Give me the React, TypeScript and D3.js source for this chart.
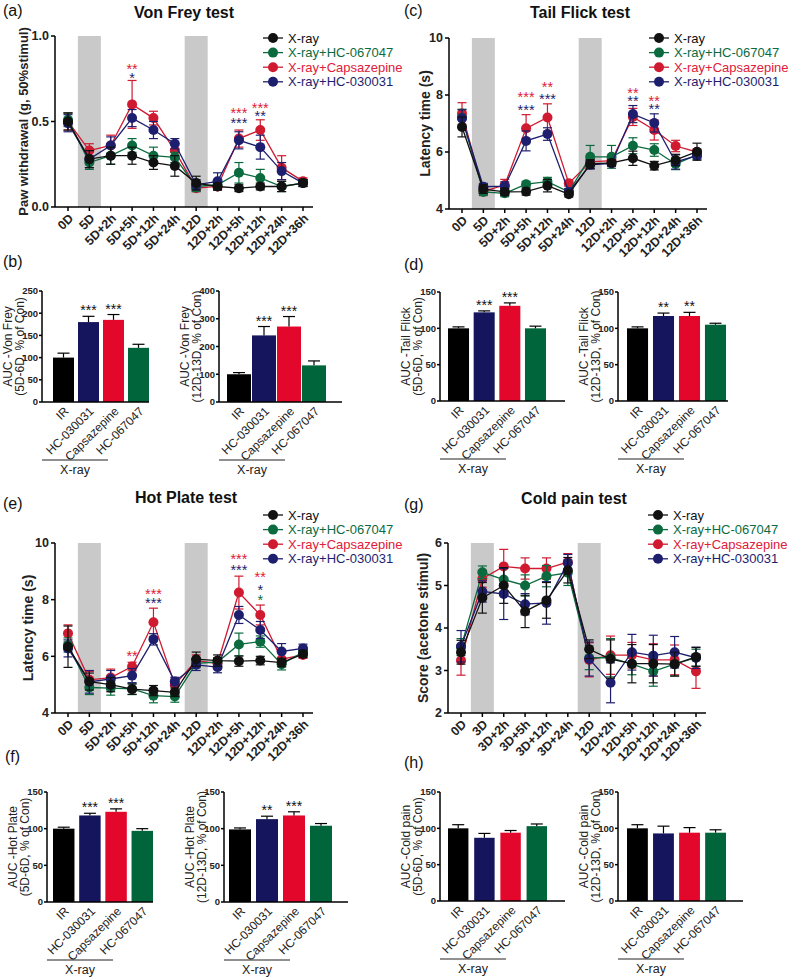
import React from 'react';
import * as d3 from 'd3';

const FONT = '"Liberation Sans", Arial, Helvetica, sans-serif';

// time points
const timeLabels = ['0D', '5D', '5D+2h', '5D+5h', '5D+12h', '5D+24h', '12D', '12D+2h', '12D+5h', '12D+12h', '12D+24h', '12D+36h'];
const coldTimeLabels = ['0D', '3D', '3D+2h', '3D+5h', '3D+12h', '3D+24h', '12D', '12D+2h', '12D+5h', '12D+12h', '12D+24h', '12D+36h'];

const seriesNames = ['X-ray', 'X-ray+HC-067047', 'X-ray+Capsazepine', 'X-ray+HC-030031'];
const seriesColors = ['#111111', '#0b6b3f', '#cf1a30', '#1e1e6e'];

// (a) Von Frey
const vfXray = [0.50, 0.28, 0.30, 0.30, 0.26, 0.24, 0.14, 0.12, 0.11, 0.12, 0.12, 0.14];
const vfXrayErr = [0.05, 0.05, 0.05, 0.05, 0.04, 0.06, 0.04, 0.02, 0.02, 0.02, 0.03, 0.02];
const vfHC067 = [0.51, 0.26, 0.30, 0.36, 0.30, 0.29, 0.12, 0.13, 0.20, 0.17, 0.12, 0.14];
const vfHC067Err = [0.04, 0.04, 0.05, 0.04, 0.05, 0.03, 0.03, 0.03, 0.06, 0.05, 0.03, 0.02];
const vfCaps = [0.50, 0.33, 0.36, 0.60, 0.52, 0.33, 0.11, 0.12, 0.40, 0.45, 0.23, 0.15];
const vfCapsErr = [0.05, 0.04, 0.06, 0.14, 0.04, 0.04, 0.02, 0.02, 0.05, 0.06, 0.07, 0.02];
const vfHC030 = [0.49, 0.28, 0.36, 0.52, 0.45, 0.37, 0.13, 0.15, 0.39, 0.35, 0.21, 0.14];
const vfHC030Err = [0.05, 0.05, 0.05, 0.05, 0.05, 0.03, 0.03, 0.05, 0.05, 0.07, 0.05, 0.02];
// [time index, series index, text, value]
const vfStars: [number, number, string, number][] = [
  [3, 2, '**', 0.825], [3, 3, '*', 0.772],
  [8, 2, '***', 0.568], [8, 3, '***', 0.51],
  [9, 2, '***', 0.597], [9, 3, '**', 0.549],
];

// (c) Tail Flick
const tfXray = [6.88, 4.70, 4.60, 4.61, 4.82, 4.52, 5.58, 5.62, 5.78, 5.52, 5.72, 6.01];
const tfXrayErr = [0.35, 0.15, 0.12, 0.12, 0.22, 0.10, 0.15, 0.10, 0.25, 0.15, 0.20, 0.30];
const tfHC067 = [7.20, 4.60, 4.55, 4.87, 4.96, 4.60, 5.83, 5.83, 6.22, 6.07, 5.58, 5.90];
const tfHC067Err = [0.30, 0.10, 0.12, 0.10, 0.15, 0.10, 0.40, 0.40, 0.28, 0.22, 0.20, 0.10];
const tfCaps = [7.35, 4.62, 4.84, 6.83, 7.21, 4.90, 5.65, 5.70, 7.23, 6.77, 6.21, 6.00];
const tfCapsErr = [0.38, 0.15, 0.20, 0.48, 0.48, 0.10, 0.12, 0.12, 0.30, 0.35, 0.20, 0.10];
const tfHC030 = [7.18, 4.78, 4.80, 6.39, 6.63, 4.60, 5.55, 5.60, 7.33, 7.02, 5.65, 5.87];
const tfHC030Err = [0.30, 0.12, 0.15, 0.35, 0.22, 0.12, 0.15, 0.10, 0.30, 0.32, 0.25, 0.12];
const tfStars: [number, number, string, number][] = [
  [3, 2, '***', 8.02], [3, 3, '***', 7.58],
  [4, 2, '**', 8.38], [4, 3, '***', 7.97],
  [8, 2, '**', 8.19], [8, 3, '**', 7.90],
  [9, 2, '**', 7.90], [9, 3, '**', 7.61],
];

// (e) Hot Plate
const hpXray = [6.34, 5.11, 5.00, 4.84, 4.79, 4.73, 5.90, 5.85, 5.83, 5.85, 5.78, 6.08];
const hpXrayErr = [0.73, 0.30, 0.25, 0.18, 0.18, 0.15, 0.25, 0.20, 0.18, 0.15, 0.15, 0.12];
const hpHC067 = [6.40, 4.90, 4.88, 4.85, 4.61, 4.58, 5.75, 5.80, 6.42, 6.52, 5.72, 6.15];
const hpHC067Err = [0.25, 0.25, 0.25, 0.20, 0.25, 0.20, 0.15, 0.15, 0.40, 0.20, 0.20, 0.12];
const hpCaps = [6.81, 5.17, 5.25, 5.64, 7.20, 5.00, 5.85, 5.75, 8.25, 7.46, 5.90, 6.05];
const hpCapsErr = [0.30, 0.30, 0.30, 0.15, 0.50, 0.20, 0.20, 0.20, 0.58, 0.35, 0.25, 0.12];
const hpHC030 = [6.28, 5.10, 5.20, 5.32, 6.60, 5.11, 5.70, 5.62, 7.46, 6.93, 6.17, 6.28];
const hpHC030Err = [0.30, 0.40, 0.30, 0.25, 0.20, 0.15, 0.20, 0.20, 0.30, 0.30, 0.28, 0.15];
const hpStars: [number, number, string, number][] = [
  [3, 2, '**', 6.11],
  [4, 2, '***', 8.31], [4, 3, '***', 7.98],
  [8, 2, '***', 9.53], [8, 3, '***', 9.16],
  [9, 2, '**', 8.9], [9, 3, '*', 8.43], [9, 1, '*', 8.08],
];

// (g) Cold pain
const cpXray = [3.43, 4.71, 5.00, 4.39, 4.65, 5.36, 3.50, 3.27, 3.16, 3.16, 3.15, 3.32];
const cpXrayErr = [0.28, 0.36, 0.42, 0.38, 0.42, 0.30, 0.22, 0.45, 0.45, 0.45, 0.28, 0.22];
const cpHC067 = [3.55, 5.31, 5.14, 5.00, 5.22, 5.30, 3.30, 3.30, 3.15, 2.98, 3.15, 3.30];
const cpHC067Err = [0.20, 0.15, 0.28, 0.25, 0.25, 0.30, 0.28, 0.45, 0.25, 0.35, 0.28, 0.20];
const cpCaps = [3.24, 5.16, 5.45, 5.40, 5.40, 5.55, 3.25, 3.36, 3.36, 3.25, 3.25, 2.98];
const cpCapsErr = [0.35, 0.20, 0.40, 0.25, 0.25, 0.20, 0.40, 0.45, 0.30, 0.38, 0.35, 0.40];
const cpHC030 = [3.57, 4.86, 4.80, 4.56, 4.59, 5.53, 3.27, 2.71, 3.43, 3.35, 3.43, 3.30];
const cpHC030Err = [0.37, 0.25, 0.60, 0.25, 0.50, 0.20, 0.40, 0.47, 0.42, 0.48, 0.37, 0.25];

// AUC bar charts
const barGroups = ['IR', 'HC-030031', 'Capsazepine', 'HC-067047'];
const barColors = ['#000000', '#15155e', '#e3072b', '#00653a'];
const vfAuc56 = [100, 180, 185, 122];
const vfAuc56Err = [10, 13, 12, 8];
const vfAuc56Stars = ['', '***', '***', ''];
const vfAuc1213 = [100, 240, 272, 132];
const vfAuc1213Err = [6, 32, 36, 16];
const vfAuc1213Stars = ['', '***', '***', ''];
const tfAuc56 = [100, 122, 131, 100];
const tfAuc56Err = [2, 2, 4, 3];
const tfAuc56Stars = ['', '***', '***', ''];
const tfAuc1213 = [100, 117, 117, 105];
const tfAuc1213Err = [2, 4, 5, 2];
const tfAuc1213Stars = ['', '**', '**', ''];
const hpAuc56 = [100, 118, 123, 97];
const hpAuc56Err = [2, 3, 4, 3];
const hpAuc56Stars = ['', '***', '***', ''];
const hpAuc1213 = [99, 113, 118, 104];
const hpAuc1213Err = [2, 4, 5, 3];
const hpAuc1213Stars = ['', '**', '***', ''];
const cpAuc56 = [100, 87, 94, 103];
const cpAuc56Err = [5, 6, 3, 3];
const cpAuc1213 = [100, 93, 94, 94];
const cpAuc1213Err = [5, 10, 7, 4];
const noStars = ['', '', '', ''];

const drawOrder = [2, 1, 3, 0];

function LinePanel(props: any) {
  const { left, top, bottom, domain, ticks, fmt, labels, means, errs, stars, yLabel, yLabelX, yLabelSize, legendX, legendY } = props;
  const x = d3.scalePoint<string>().domain(labels).range([left + 13, left + 248]);
  const y = d3.scaleLinear().domain(domain).range([bottom, top]);
  const px = (i: number) => x(labels[i]) as number;
  const line = d3.line<number>().x((_, i) => px(i)).y(d => y(d));
  const bandW = 23;
  return (
    <g fontFamily={FONT}>
      {[1, 6].map(i => (
        <rect key={i} x={px(i) - bandW / 2} y={top} width={bandW} height={bottom - top} fill="#c9c9c9" />
      ))}
      {drawOrder.map(s => (
        <g key={s}>
          <path d={line(means[s]) as string} fill="none" stroke={seriesColors[s]} strokeWidth={1.3} />
          {means[s].map((m: number, i: number) => {
            const y1 = y(m - errs[s][i]);
            const y2 = y(m + errs[s][i]);
            return (
              <g key={i} stroke={seriesColors[s]} strokeWidth={1.2}>
                <line x1={px(i)} x2={px(i)} y1={y1} y2={y2} />
                <line x1={px(i) - 4.5} x2={px(i) + 4.5} y1={y1} y2={y1} />
                <line x1={px(i) - 4.5} x2={px(i) + 4.5} y1={y2} y2={y2} />
              </g>
            );
          })}
          {means[s].map((m: number, i: number) => (
            <circle key={i} cx={px(i)} cy={y(m)} r={5} fill={seriesColors[s]} />
          ))}
        </g>
      ))}
      {/* axes */}
      <line x1={left} x2={left} y1={top} y2={bottom} stroke="#000" strokeWidth={1.5} />
      <line x1={left} x2={left + 258} y1={bottom} y2={bottom} stroke="#000" strokeWidth={1.5} />
      {ticks.map((t: number) => (
        <g key={t}>
          <line x1={left - 4} x2={left} y1={y(t)} y2={y(t)} stroke="#000" strokeWidth={1.5} />
          <text x={left - 6} y={y(t)} dy="0.35em" textAnchor="end" fontSize={12.5} fontWeight="bold" fill="#222">{d3.format(fmt)(t)}</text>
        </g>
      ))}
      {labels.map((l: string, i: number) => (
        <g key={l}>
          <line x1={px(i)} x2={px(i)} y1={bottom} y2={bottom + 4} stroke="#000" strokeWidth={1.5} />
          <text transform={`translate(${px(i) + 3},${bottom + 9}) rotate(-45)`} dy="0.35em" textAnchor="end" fontSize={12.5} fontWeight="bold" fill="#222">{l}</text>
        </g>
      ))}
      <text transform={`translate(${yLabelX},${(top + bottom) / 2}) rotate(-90)`} dy="0.35em" textAnchor="middle" fontSize={yLabelSize} fontWeight="bold" fill="#222">{yLabel}</text>
      {stars.map(([i, s, t, v]: [number, number, string, number], k: number) => (
        <text key={k} x={px(i)} y={y(v) + 8} textAnchor="middle" fontSize={14.5} fill={s === 2 ? '#e0203a' : seriesColors[s]}>{t}</text>
      ))}
      {seriesNames.map((n, s) => (
        <g key={n} transform={`translate(${legendX},${legendY + s * 14.6})`}>
          <line x1={-10} x2={10} y1={0} y2={0} stroke={seriesColors[s]} strokeWidth={1.3} />
          <circle r={5} fill={seriesColors[s]} />
          <text x={15} dy="0.35em" fontSize={13} fill={s === 2 ? '#e0203a' : seriesColors[s]}>{n}</text>
        </g>
      ))}
    </g>
  );
}

function BarPanel(props: any) {
  const { left, top, bottom, r0, r1, pad, axisEnd, max, step, values, errs, stars, label1, label2 } = props;
  const x = d3.scaleBand<string>().domain(barGroups).range([r0, r1]).paddingInner(pad).paddingOuter(0);
  const y = d3.scaleLinear().domain([0, max]).range([bottom, top]);
  const ticks = d3.range(0, max + 1, step);
  const bw = x.bandwidth();
  const cx = (g: string) => (x(g) as number) + bw / 2;
  const bx0 = left;
  const bx1 = left + 66;
  return (
    <g fontFamily={FONT}>
      {barGroups.map((g, i) => {
        const yt = y(values[i] + errs[i]);
        return (
          <g key={g}>
            <rect x={x(g)} y={y(values[i])} width={bw} height={bottom - y(values[i])} fill={barColors[i]} />
            <line x1={cx(g)} x2={cx(g)} y1={y(values[i])} y2={yt} stroke="#000" strokeWidth={1.2} />
            <line x1={cx(g) - 6} x2={cx(g) + 6} y1={yt} y2={yt} stroke="#000" strokeWidth={1.2} />
            {stars[i] && (
              <text x={cx(g)} y={yt - 1} textAnchor="middle" fontSize={14} fill="#111">{stars[i]}</text>
            )}
            <text transform={`translate(${cx(g) + 3},${bottom + 7}) rotate(-45)`} dy="0.35em" textAnchor="end" fontSize={12} fill="#222">{g}</text>
          </g>
        );
      })}
      <line x1={left} x2={left} y1={top} y2={bottom} stroke="#000" strokeWidth={1.5} />
      <line x1={left} x2={axisEnd} y1={bottom} y2={bottom} stroke="#000" strokeWidth={1.5} />
      {ticks.map(t => (
        <g key={t}>
          <line x1={left - 3} x2={left} y1={y(t)} y2={y(t)} stroke="#000" strokeWidth={1.5} />
          <text x={left - 4} y={y(t)} dy="0.35em" textAnchor="end" fontSize={9.5} fontWeight="bold" fill="#222">{t}</text>
        </g>
      ))}
      <text transform={`translate(${left - 34},${(top + bottom) / 2}) rotate(-90)`} dy="0.35em" textAnchor="middle" fontSize={12} fill="#222">{label1}</text>
      <text transform={`translate(${left - 22},${(top + bottom) / 2}) rotate(-90)`} dy="0.35em" textAnchor="middle" fontSize={12} fill="#222">{label2}</text>
      <line x1={bx0} x2={bx1} y1={bottom + 58} y2={bottom + 58} stroke="#222" strokeWidth={1.2} />
      <text x={(bx0 + bx1) / 2} y={bottom + 72} textAnchor="middle" fontSize={12.5} fill="#222">X-ray</text>
    </g>
  );
}

const Title = ({ x, y, children }: any) => (
  <text x={x} y={y} textAnchor="middle" fontFamily={FONT} fontSize={16} fontWeight="bold" fill="#111">{children}</text>
);
const PanelTag = ({ x, y, children }: any) => (
  <text x={x} y={y} fontFamily={FONT} fontSize={16} fill="#111">{children}</text>
);

export default function App() {
  return (
    <svg width={788} height={978} style={{ position: 'absolute', left: 0, top: 0, background: '#fff' }}>
      <rect width={788} height={978} fill="#fff" />
      <PanelTag x={3} y={16}>(a)</PanelTag>
      <PanelTag x={404} y={16}>(c)</PanelTag>
      <PanelTag x={3} y={267}>(b)</PanelTag>
      <PanelTag x={404} y={270}>(d)</PanelTag>
      <PanelTag x={3} y={509}>(e)</PanelTag>
      <PanelTag x={404} y={510}>(g)</PanelTag>
      <PanelTag x={5} y={762}>(f)</PanelTag>
      <PanelTag x={404} y={768}>(h)</PanelTag>

      <Title x={184} y={18}>Von Frey test</Title>
      <Title x={580} y={18}>Tail Flick test</Title>
      <Title x={186} y={503}>Hot Plate test</Title>
      <Title x={574} y={504}>Cold pain test</Title>

      <LinePanel left={55} top={36} bottom={207} domain={[0, 1]} ticks={[0, 0.5, 1]} fmt=".1f"
        labels={timeLabels} means={[vfXray, vfHC067, vfCaps, vfHC030]} errs={[vfXrayErr, vfHC067Err, vfCapsErr, vfHC030Err]}
        stars={vfStars} yLabel="Paw withdrawal (g, 50%stimul)" yLabelX={23} yLabelSize={13} legendX={273} legendY={38} />
      <LinePanel left={449} top={38} bottom={209} domain={[4, 10]} ticks={[4, 6, 8, 10]} fmt="d"
        labels={timeLabels} means={[tfXray, tfHC067, tfCaps, tfHC030]} errs={[tfXrayErr, tfHC067Err, tfCapsErr, tfHC030Err]}
        stars={tfStars} yLabel="Latency time (s)" yLabelX={425} yLabelSize={14} legendX={659} legendY={38} />
      <LinePanel left={55} top={543} bottom={713} domain={[4, 10]} ticks={[4, 6, 8, 10]} fmt="d"
        labels={timeLabels} means={[hpXray, hpHC067, hpCaps, hpHC030]} errs={[hpXrayErr, hpHC067Err, hpCapsErr, hpHC030Err]}
        stars={hpStars} yLabel="Latency time (s)" yLabelX={28} yLabelSize={14} legendX={273} legendY={515} />
      <LinePanel left={448} top={543} bottom={713} domain={[2, 6]} ticks={[2, 3, 4, 5, 6]} fmt="d"
        labels={coldTimeLabels} means={[cpXray, cpHC067, cpCaps, cpHC030]} errs={[cpXrayErr, cpHC067Err, cpCapsErr, cpHC030Err]}
        stars={[]} yLabel="Score (acetone stimul)" yLabelX={423} yLabelSize={14} legendX={658} legendY={515} />

      <BarPanel left={42} top={291} bottom={402} r0={53} r1={149} pad={0.16} axisEnd={149} max={250} step={50}
        values={vfAuc56} errs={vfAuc56Err} stars={vfAuc56Stars} label1="AUC -Von Frey" label2="(5D-6D, % of Con)" />
      <BarPanel left={219} top={291} bottom={402} r0={227} r1={326} pad={0.04} axisEnd={342} max={400} step={100}
        values={vfAuc1213} errs={vfAuc1213Err} stars={vfAuc1213Stars} label1="AUC -Von Frey" label2="(12D-13D, % of Con)" />
      <BarPanel left={440} top={292} bottom={401} r0={448} r1={546} pad={0.18} axisEnd={565} max={150} step={50}
        values={tfAuc56} errs={tfAuc56Err} stars={tfAuc56Stars} label1="AUC -Tail Flick" label2="(5D-6D, % of Con)" />
      <BarPanel left={618} top={292} bottom={401} r0={627} r1={726} pad={0.19} axisEnd={728} max={150} step={50}
        values={tfAuc1213} errs={tfAuc1213Err} stars={tfAuc1213Stars} label1="AUC -Tail Flick" label2="(12D-13D, % of Con)" />
      <BarPanel left={47} top={792} bottom={902} r0={53} r1={153} pad={0.18} axisEnd={153} max={150} step={50}
        values={hpAuc56} errs={hpAuc56Err} stars={hpAuc56Stars} label1="AUC -Hot Plate" label2="(5D-6D, % of Con)" />
      <BarPanel left={224} top={792} bottom={902} r0={229} r1={332} pad={0.185} axisEnd={348} max={150} step={50}
        values={hpAuc1213} errs={hpAuc1213Err} stars={hpAuc1213Stars} label1="AUC -Hot Plate" label2="(12D-13D, % of Con)" />
      <BarPanel left={440} top={792} bottom={901} r0={448} r1={547} pad={0.22} axisEnd={565} max={150} step={50}
        values={cpAuc56} errs={cpAuc56Err} stars={noStars} label1="AUC -Cold pain" label2="(5D-6D, % of Con)" />
      <BarPanel left={618} top={792} bottom={901} r0={627} r1={726} pad={0.2} axisEnd={743} max={150} step={50}
        values={cpAuc1213} errs={cpAuc1213Err} stars={noStars} label1="AUC -Cold pain" label2="(12D-13D, % of Con)" />
    </svg>
  );
}
